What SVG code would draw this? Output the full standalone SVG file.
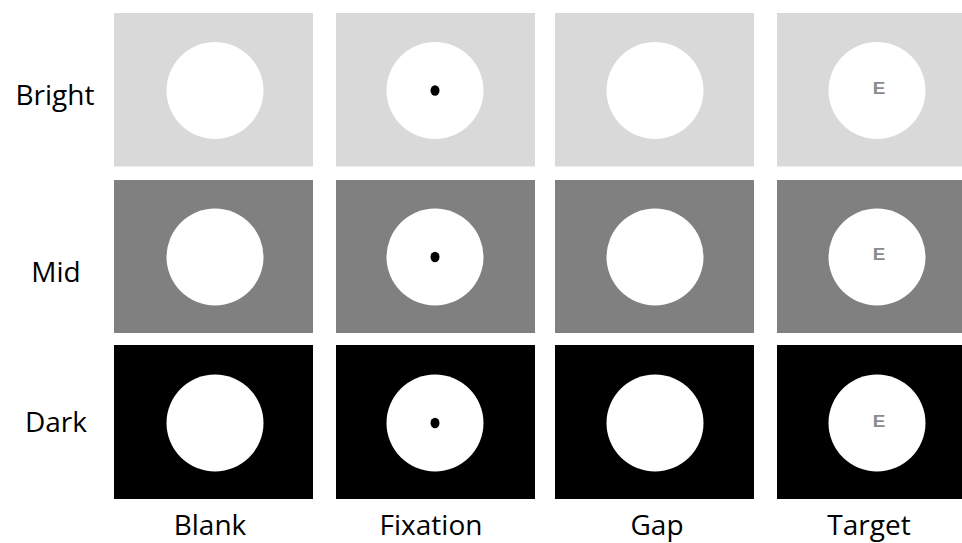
<svg xmlns="http://www.w3.org/2000/svg" width="962" height="543" viewBox="0 0 962 543">
<style>
.bright{fill:#d9d9d9}
.mid{fill:#808080}
.dark{fill:#000000}
.disc{fill:#ffffff}
.dot{fill:#000000}
.lbl{font-family:"Open Sans","Noto Sans",sans-serif;font-size:28px;fill:#000;text-anchor:middle}
.e{font-family:"Liberation Sans",Arial,sans-serif;font-weight:bold;font-size:16px;fill:#8a8a8a}
</style>
<rect width="962" height="543" fill="#fff"/>
<g id="row-bright">
<rect class="bright" x="114" y="13" width="199" height="153.5"/>
<circle class="disc" cx="215" cy="90.5" r="48.5"/>
<rect class="bright" x="336" y="13" width="199" height="153.5"/>
<circle class="disc" cx="435" cy="90.5" r="48.5"/>
<ellipse class="dot" cx="435" cy="90.5" rx="4.5" ry="5.2"/>
<rect class="bright" x="555" y="13" width="199" height="153.5"/>
<circle class="disc" cx="655" cy="90.5" r="48.5"/>
<rect class="bright" x="777" y="13" width="199" height="153.5"/>
<circle class="disc" cx="877" cy="90.5" r="48.5"/>
<text class="e" x="872.7" y="93.7" textLength="12.6" lengthAdjust="spacingAndGlyphs">E</text>
</g>
<g id="row-mid">
<rect class="mid" x="114" y="180" width="199" height="153"/>
<circle class="disc" cx="215" cy="257" r="48.5"/>
<rect class="mid" x="336" y="180" width="199" height="153"/>
<circle class="disc" cx="435" cy="257" r="48.5"/>
<ellipse class="dot" cx="435" cy="257" rx="4.5" ry="5.2"/>
<rect class="mid" x="555" y="180" width="199" height="153"/>
<circle class="disc" cx="655" cy="257" r="48.5"/>
<rect class="mid" x="777" y="180" width="199" height="153"/>
<circle class="disc" cx="877" cy="257" r="48.5"/>
<text class="e" x="872.7" y="260.2" textLength="12.6" lengthAdjust="spacingAndGlyphs">E</text>
</g>
<g id="row-dark">
<rect class="dark" x="114" y="345" width="199" height="154"/>
<circle class="disc" cx="215" cy="423" r="48.5"/>
<rect class="dark" x="336" y="345" width="199" height="154"/>
<circle class="disc" cx="435" cy="423" r="48.5"/>
<ellipse class="dot" cx="435" cy="423" rx="4.5" ry="5.2"/>
<rect class="dark" x="555" y="345" width="199" height="154"/>
<circle class="disc" cx="655" cy="423" r="48.5"/>
<rect class="dark" x="777" y="345" width="199" height="154"/>
<circle class="disc" cx="877" cy="423" r="48.5"/>
<text class="e" x="872.7" y="426.5" textLength="12.6" lengthAdjust="spacingAndGlyphs">E</text>
</g>
<g id="row-labels">
<text class="lbl" x="55" y="105">Bright</text>
<text class="lbl" x="56" y="282">Mid</text>
<text class="lbl" x="56" y="432">Dark</text>
</g>
<g id="col-labels">
<text class="lbl" x="210" y="535">Blank</text>
<text class="lbl" x="431" y="535">Fixation</text>
<text class="lbl" x="657" y="535">Gap</text>
<text class="lbl" x="869" y="535">Target</text>
</g>
</svg>
